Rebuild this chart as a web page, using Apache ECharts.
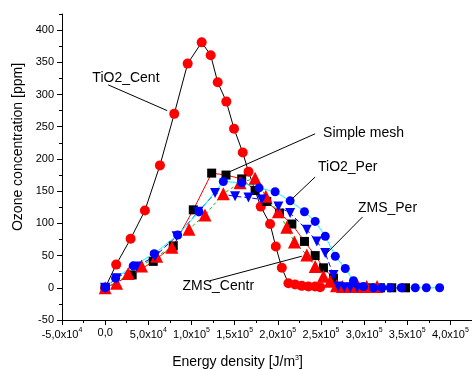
<!DOCTYPE html>
<html>
<head>
<meta charset="utf-8">
<script src="https://cdn.jsdelivr.net/npm/echarts@6/dist/echarts.min.js"></script>
<style>
  html, body { margin: 0; padding: 0; background: #fff; }
  #chartContainer { width: 472px; height: 370px; }
</style>
</head>
<body>
<div id="chartContainer"></div>
<script>
// energy density [J/m3] and ozone [ppm]
const tio2CentX = [0, 12760, 29470, 46050, 63460, 80050, 95590, 111830, 122270, 130390, 140370, 149300, 159400, 166100, 180270, 191070, 197680, 204640, 212300, 220100, 227800, 235500, 243300, 249100];
const tio2CentY = [0, 36, 76, 120, 190, 270, 348, 381, 361, 319, 289, 247, 210, 180, 126, 99, 64, 31, 7, 5, 3, 2, 2, 1];

const meshX = [0, 31300, 55700, 78900, 102100, 123400, 140000, 158200, 173700, 187200, 201900, 216300, 230900, 243300, 252900, 264500, 274000, 286000, 297000, 307000, 319000, 332000, 348000];
const meshY = [0, 20, 41, 65, 121, 178, 175, 169, 151, 134, 116, 99, 72, 50, 31, 15, 0, 0, 0, 0, 0, 0, 0];

const tio2PerX = [0, 12070, 32480, 56840, 83990, 108700, 136900, 158200, 178300, 196900, 214300, 230900, 243300, 255000, 266600, 278200, 287700, 299300, 310900, 320600, 330300, 343000, 359300, 372100, 387500];
const tio2PerY = [0, 15, 34, 53, 82, 118, 165, 163, 155, 149, 135, 118, 103, 80, 49, 30, 11, 2, 0, 0, 0, 0, 0, 0, 0];

const zmsPerX = [0, 13200, 36400, 57700, 82800, 107900, 127300, 150500, 166000, 181400, 200700, 214300, 233600, 245200, 254900, 264500, 270000, 277000, 284000, 292000];
const zmsPerY = [0, 15, 33, 49, 80, 118, 147, 142, 140, 137, 126, 116, 90, 72, 54, 20, 2, 1, 0, 0];

const zmsCentrX = [0, 13200, 26700, 42200, 59600, 77400, 97100, 115700, 136900, 156300, 173700, 186100, 200700, 210400, 219300, 233600, 243300, 252900, 260700, 268000, 275000, 284000, 293000, 303000, 315000];
const zmsCentrY = [0, 7, 22, 34, 49, 63, 91, 113, 146, 163, 170, 142, 118, 94, 71, 51, 33, 18, 10, 3, 2, 2, 2, 2, 2];

const xTicks = [-50000, 0, 50000, 100000, 150000, 200000, 250000, 300000, 350000, 400000];
const xMinor = [-25000, 25000, 75000, 125000, 175000, 225000, 275000, 325000, 375000, 425000];
const yTicks = [-50, 0, 50, 100, 150, 200, 250, 300, 350, 400];
const yMinor = [-25, 25, 75, 125, 175, 225, 275, 325, 375, 425];

// label text, text centre, arrow start, arrow end (data units)
const notes = [
  ['TiO2_Cent', 24100, 326, 3500, 315, 71900, 275],
  ['Simple mesh', 299300, 240, 243200, 239, 142300, 179],
  ['TiO2_Per', 281000, 188, 243300, 172, 216600, 138],
  ['ZMS_Per', 327100, 124, 298200, 110, 256900, 54],
  ['ZMS_Centr', 131100, 2, 121500, 11, 227800, 49]
];

const FONT = 'Liberation Sans, Arial, sans-serif';

function pairs(xs, ys) {
  return xs.map((x, i) => [x, ys[i]]);
}

function sciLabel(v) {
  if (v === 0) return '{n|0,0}';
  const e = Math.floor(Math.log10(Math.abs(v)) + 1e-9);
  const m = v / Math.pow(10, e);
  return '{n|' + m.toFixed(1).replace('.', ',') + 'x10}{s|' + e + '}';
}

const supRich = {
  n: { fontSize: 11, fontFamily: FONT, color: '#000' },
  t: { fontSize: 14, fontFamily: FONT, color: '#000' },
  s: { fontSize: 7, fontFamily: FONT, color: '#000', padding: [0, 0, 8, 0] }
};

const black = { color: '#000', width: 1 };

var myChart = echarts.init(document.getElementById('chartContainer'), null, { renderer: 'canvas' });

const options = {
  animation: false,
  backgroundColor: '#fff',
  textStyle: { fontFamily: FONT },
  grid: { left: 62, right: 0, top: 14, bottom: 50, outerBoundsMode: 'none' },
  xAxis: [{
    type: 'value', min: -50000, max: 425000, position: 'bottom',
    axisLine: { onZero: false, lineStyle: black },
    axisTick: { length: 5, lineStyle: black, customValues: xTicks },
    axisLabel: { customValues: xTicks, formatter: sciLabel, rich: supRich, margin: 7 },
    splitLine: { show: false },
    name: '{t|Energy density [J/m}{s|3}{t|]}',
    nameLocation: 'middle', nameGap: 35,
    nameTextStyle: { rich: supRich, padding: [0, 59, 0, 0] }
  }, {
    type: 'value', min: -50000, max: 425000, position: 'bottom',
    axisLine: { show: false, onZero: false },
    axisTick: { length: 3, lineStyle: black, customValues: xMinor },
    axisLabel: { show: false },
    splitLine: { show: false }
  }],
  yAxis: [{
    type: 'value', min: -50, max: 425, position: 'left',
    axisLine: { show: true, onZero: false, lineStyle: black },
    axisTick: { show: true, length: 5, lineStyle: black, customValues: yTicks },
    axisLabel: { customValues: yTicks, fontSize: 11, color: '#000', margin: 8 },
    splitLine: { show: false },
    name: 'Ozone concentration [ppm]',
    nameLocation: 'middle', nameGap: 37,
    nameTextStyle: { fontSize: 14, color: '#000', padding: [0, 0, 0, 40] }
  }, {
    type: 'value', min: -50, max: 425, position: 'left',
    axisLine: { show: false, onZero: false },
    axisTick: { show: true, length: 3, lineStyle: black, customValues: yMinor },
    axisLabel: { show: false },
    splitLine: { show: false }
  }],
  series: [{
    name: 'TiO2_Cent', type: 'line',
    data: pairs(tio2CentX, tio2CentY),
    symbol: 'circle', symbolSize: 10,
    lineStyle: { color: '#000', width: 1 },
    itemStyle: { color: '#ff0000' }
  }, {
    name: 'Simple mesh', type: 'line',
    data: pairs(meshX, meshY),
    symbol: 'rect', symbolSize: 9,
    lineStyle: { color: '#ff0000', width: 1 },
    itemStyle: { color: '#000' }
  }, {
    name: 'ZMS_Centr', type: 'line',
    data: pairs(zmsCentrX, zmsCentrY),
    symbol: 'triangle', symbolSize: 13,
    lineStyle: { color: '#00c000', width: 1, type: [3, 3] },
    itemStyle: { color: '#ff0000' }
  }, {
    name: 'ZMS_Per', type: 'line',
    data: pairs(zmsPerX, zmsPerY),
    symbol: 'triangle', symbolRotate: 180, symbolSize: 10,
    lineStyle: { color: '#0000ff', width: 1, type: [5, 3] },
    itemStyle: { color: '#0000ff' }
  }, {
    name: 'TiO2_Per', type: 'line',
    data: pairs(tio2PerX, tio2PerY),
    symbol: 'circle', symbolSize: 9,
    lineStyle: { color: '#00ffff', width: 1 },
    itemStyle: { color: '#0000ff' }
  }, {
    name: 'notes', type: 'line', data: [], silent: true,
    markLine: {
      silent: true, animation: false,
      symbol: ['none', 'arrow'], symbolSize: [0, 8],
      lineStyle: { color: '#000', width: 1, type: 'solid' },
      label: { show: false },
      data: notes.map(n => [{ coord: [n[3], n[4]] }, { coord: [n[5], n[6]] }])
    },
    markPoint: {
      silent: true, animation: false,
      symbol: 'circle', symbolSize: 0,
      itemStyle: { color: 'rgba(0,0,0,0)' },
      label: {
        show: true, position: 'inside', color: '#000', fontSize: 14,
        fontFamily: FONT, textBorderWidth: 0
      },
      data: notes.map(n => ({ coord: [n[1], n[2]], value: n[0] }))
    }
  }]
};

myChart.setOption(options);
</script>
</body>
</html>
